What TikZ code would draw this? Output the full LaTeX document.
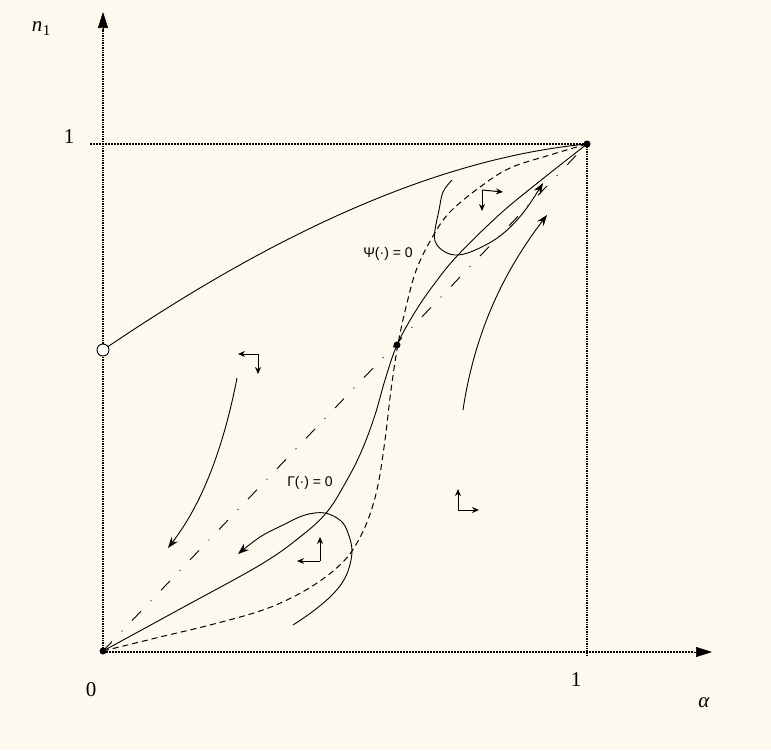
\documentclass[tikz,border=0pt]{standalone}
\usepackage{fontspec}
\setmainfont{Liberation Serif}
\newfontfamily\labfont{Liberation Sans}
\usetikzlibrary{arrows.meta}
\definecolor{bgc}{RGB}{253,249,238}
\begin{document}
\begin{tikzpicture}[x=1pt,y=-1pt,
  curve/.style={line width=0.9pt, line join=round},
  dashedcurve/.style={line width=1pt, dash pattern=on 6pt off 4pt},
  diag/.style={line width=0.9pt, dash pattern=on 13pt off 14pt on 1pt off 14pt},
  vaxis/.style={line width=2pt, dash pattern=on 1.4pt off 1pt},
  haxis/.style={line width=1.2pt, dash pattern=on 1.6pt off 1.4pt},
  dotnode/.style={circle, fill=black, inner sep=0pt, minimum size=7pt},
  opennode/.style={circle, draw=black, fill=white, line width=0.9pt, inner sep=0pt, minimum size=12pt},
  tipc/.style={-{Stealth[length=11pt,width=8pt]}},
  smalltip/.style={-{Stealth[length=7pt,width=6pt]}},
  axtip/.style={line width=0.6pt, -{Triangle[length=16pt,width=10pt]}},
  serif/.style={font=\fontsize{21}{24}\selectfont, inner sep=0pt},
  lab/.style={font=\labfont\fontsize{14}{16}\selectfont, inner sep=0pt}
]
\fill[bgc] (0,0) rectangle (771,750);
\useasboundingbox (0,0) rectangle (771,750);

% key coordinates
\coordinate (ytip) at (103,12);
\coordinate (ybase) at (103,29);
\coordinate (xtip) at (712,652);
\coordinate (xbase) at (694,652);
\coordinate (h0) at (90,144);
\coordinate (v1) at (587,656);

% axes and unit lines
\draw[vaxis] (103,651) -- (ybase);
\draw[axtip] (ybase) -- (ytip);
\draw[haxis] (103,652) -- (xbase);
\draw[axtip] (xbase) -- (xtip);
\draw[haxis] (h0) -- (587,144);
\draw[vaxis] (587,144) -- (v1);

% diagonal dash-dot
\draw[diag] (103,651) -- (587,144);

% upper curve
\draw[curve] (103,350) .. controls (250,250) and (420,160) .. (587,144);

% Gamma curve (solid S)
\draw[curve] plot[smooth, tension=0.6] coordinates {(103,651) (180,609) (260,565) (300,537) (327,512) (347,480) (362,450) (375,415) (385,380) (397,345) (415,312) (435,283) (458,255) (500,214) (540,181) (587,144)};

% Psi curve (dashed)
\draw[dashedcurve] plot[smooth, tension=0.6] coordinates {(103,651) (160,637) (210,625) (260,611) (293,597) (320,581) (343,562) (357,543) (369,517) (378,485) (385,440) (391,390) (398,344) (407,303) (417,268) (433,236) (450,212) (480,187) (510,168) (550,155) (587,144)};

% lower loop
\draw[curve, tipc] plot[smooth, tension=0.6] coordinates {(293,625) (312,612) (330,597) (342,583) (349,568) (352,550) (348,533) (341,521) (325,513) (305,515) (283,525) (260,537) (238,554)};

% upper loop
\draw[curve, tipc] plot[smooth, tension=0.6] coordinates {(452,180) (443,192) (439,210) (435,230) (435,241) (442,250) (455,255) (473,251) (500,236) (523,213) (543,183)};

% right long arrow
\draw[curve, tipc] (463,410) .. controls (475,330) and (505,270) .. (547,215);

% left long arrow
\draw[curve, tipc] (237,378) .. controls (225,440) and (205,500) .. (168,548);

% corner arrows
\coordinate (c1) at (258,354);
\coordinate (c1a) at (238,354);
\coordinate (c1b) at (258,374);
\draw[line width=1pt, smalltip] (c1) -- (c1a);
\draw[line width=1pt, smalltip] (c1) -- (c1b);

\coordinate (c2) at (458,510);
\coordinate (c2a) at (458,489);
\coordinate (c2b) at (479,510);
\draw[line width=1pt, smalltip] (c2) -- (c2a);
\draw[line width=1pt, smalltip] (c2) -- (c2b);

\coordinate (c3) at (320,561);
\coordinate (c3a) at (297,561);
\coordinate (c3b) at (320,537);
\draw[line width=1pt, smalltip] (c3) -- (c3a);
\draw[line width=1pt, smalltip] (c3) -- (c3b);

\coordinate (c4) at (482,190);
\coordinate (c4a) at (503,192);
\coordinate (c4b) at (482,211);
\draw[line width=1pt, smalltip] (c4) -- (c4a);
\draw[line width=1pt, smalltip] (c4) -- (c4b);

% points
\node[dotnode] (O) at (103,651) {};
\node[dotnode] (M) at (397,345) {};
\node[dotnode] (E) at (587,144) {};
\node[opennode] (P) at (103,350) {};

% labels
\node[serif] (ln) at (41,29) {\itshape n\kern0.5pt\raisebox{-4pt}{\fontsize{15}{15}\selectfont\upshape 1}};
\node[serif] (l1y) at (69,137) {1};
\node[serif] (l0) at (91,690) {0};
\node[serif] (l1x) at (576,680) {1};
\node[serif] (la) at (704,703) {\itshape α};
\node[lab] (lpsi) at (388,254) {Ψ(·) = 0};
\node[lab] (lgam) at (310,483) {Γ(·) = 0};
\end{tikzpicture}
\end{document}
